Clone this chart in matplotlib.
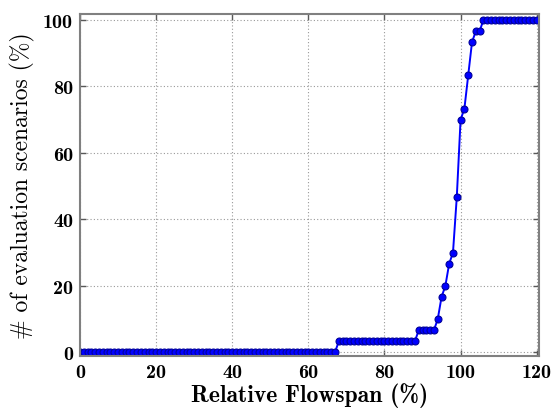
import matplotlib
matplotlib.use('Agg')
import matplotlib.pyplot as plt
import numpy as np

# Relative flowspan (%) and cumulative share of evaluation scenarios (%)
flowspan = np.arange(0, 121)
steps = {94: 10.0, 95: 16.67, 96: 20.0, 97: 26.67, 98: 30.0, 99: 46.67,
         100: 70.0, 101: 73.33, 102: 83.33, 103: 93.33, 104: 96.67, 105: 96.67}
scenarios = []
for v in flowspan:
    if v <= 67:
        scenarios.append(0.0)
    elif v <= 88:
        scenarios.append(3.33)
    elif v <= 93:
        scenarios.append(6.67)
    elif v in steps:
        scenarios.append(steps[v])
    else:
        scenarios.append(100.0)

xticks = [0, 20, 40, 60, 80, 100, 120]
yticks = [0, 20, 40, 60, 80, 100]

fig = plt.figure(figsize=(5.54, 4.10), dpi=100)
ax = fig.add_axes([0.1444, 0.1293, 0.8285, 0.834])

ax.plot(flowspan, scenarios, '-', color='#0000ff', marker='o', markersize=5,
        linewidth=1.4, markerfacecolor='#0000ff', markeredgecolor='#00009a',
        markeredgewidth=0.8)

ax.set_xlim(0, 120.6)
ax.set_ylim(-1.1, 101.8)
ax.set_xticks(xticks)
ax.set_yticks(yticks)
ax.set_xticklabels([str(t) for t in xticks], fontsize=14.5, family='cmb10')
ax.set_yticklabels([str(t) for t in yticks], fontsize=14.5, family='cmb10')
ax.tick_params(direction='in', length=4, width=1, color='0.35', pad=5,
               top=True, right=True)
ax.grid(True, linestyle=(0, (1, 2)), color='0.6', linewidth=0.8)

for s in ax.spines.values():
    s.set_color('0.5')
    s.set_linewidth(1.5)

ax.set_xlabel('Relative Flowspan (%)', fontsize=17, family='cmb10', labelpad=1)
ax.set_ylabel('# of evaluation scenarios (%)', fontsize=17, family='cmr10', labelpad=6)

fig.savefig('out.png', dpi=100)
